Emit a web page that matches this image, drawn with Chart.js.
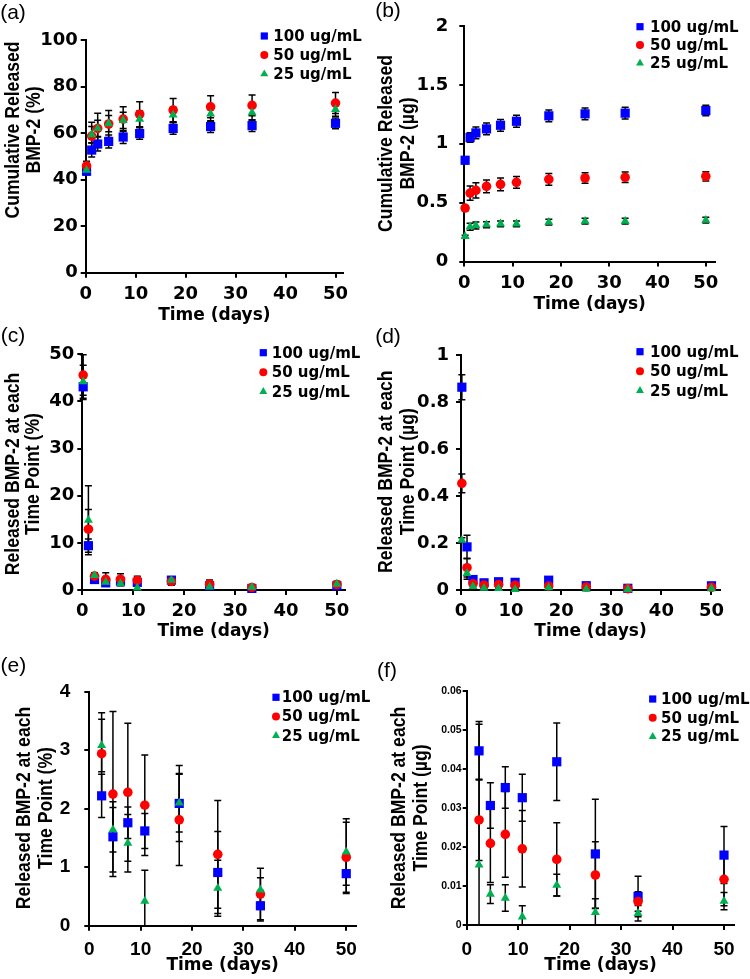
<!DOCTYPE html>
<html>
<head>
<meta charset="utf-8">
<title>BMP-2 release</title>
<script src="https://cdn.jsdelivr.net/npm/chart.js@4.4.0/dist/chart.umd.min.js"></script>
<style>
  body { margin: 0; background: #fff; }
  #fig { position: relative; width: 750px; height: 979px; }
  canvas { position: absolute; }
</style>
</head>
<body>
<div id="fig">
  <canvas id="panelA" width="375" height="328" style="left:0;top:0"></canvas>
  <canvas id="panelB" width="375" height="316" style="left:375px;top:0"></canvas>
  <canvas id="panelC" width="375" height="322" style="left:0;top:322px"></canvas>
  <canvas id="panelD" width="375" height="322" style="left:375px;top:322px"></canvas>
  <canvas id="panelE" width="375" height="329" style="left:0;top:650px"></canvas>
  <canvas id="panelF" width="375" height="329" style="left:375px;top:650px"></canvas>
</div>
<script>
// sampling days
const days = [0.17, 1.2, 2.4, 4.6, 7.5, 10.8, 17.5, 25, 33.3, 50];
const seriesLabels = ["100 ug/mL", "50 ug/mL", "25 ug/mL"];

// (a) cumulative release, %
const cumPct100 = [43.6, 52.7, 55.3, 56.4, 58.3, 59.8, 62.0, 62.8, 63.2, 64.2];
const cumPct50 = [45.9, 58.7, 62.0, 63.9, 66.0, 68.1, 69.9, 71.3, 71.9, 72.9];
const cumPct25 = [44.1, 59.3, 62.0, 64.1, 65.5, 66.0, 67.8, 68.2, 68.8, 70.2];
const cumPctSd100 = [1.5, 3, 3, 2.8, 2.8, 2.5, 2.5, 2.5, 2.5, 2.3];
const cumPctSd50 = [2, 6, 6.5, 5.8, 5.3, 5.4, 5, 4.7, 4.5, 4.5];
const cumPctSd25 = [1.5, 3.5, 3.5, 3.5, 3.5, 3.5, 3.3, 3.3, 3.3, 3];

// (b) cumulative release, ug
const cumUg100 = [0.86, 1.053, 1.092, 1.126, 1.157, 1.191, 1.237, 1.254, 1.26, 1.282];
const cumUg50 = [0.454, 0.581, 0.604, 0.638, 0.655, 0.672, 0.698, 0.709, 0.715, 0.723];
const cumUg25 = [0.213, 0.295, 0.306, 0.312, 0.32, 0.32, 0.334, 0.343, 0.343, 0.351];
const cumUgSd100 = [0.03, 0.04, 0.05, 0.05, 0.05, 0.05, 0.05, 0.05, 0.05, 0.045];
const cumUgSd50 = [0.02, 0.06, 0.065, 0.055, 0.055, 0.05, 0.05, 0.045, 0.045, 0.04];
const cumUgSd25 = [0.01, 0.03, 0.03, 0.025, 0.025, 0.025, 0.025, 0.025, 0.025, 0.025];

// (c)/(e) release at each time point, %
const ptPct100 = [43.1, 9.4, 2.22, 1.52, 1.76, 1.62, 2.09, 0.91, 0.34, 0.89];
const ptPct50 = [45.6, 12.9, 2.94, 2.25, 2.28, 2.06, 1.81, 1.22, 0.54, 1.17];
const ptPct25 = [44.2, 14.8, 3.08, 1.64, 1.41, 0.42, 2.10, 0.64, 0.61, 1.26];
const ptPctSd100 = [2.7, 1.4, 0.37, 0.6, 0.27, 0.3, 0.65, 0.7, 0.26, 0.34];
const ptPctSd50 = [4.3, 4.2, 0.7, 1.41, 1.18, 0.86, 0.78, 0.92, 0.44, 0.6];
const ptPctSd25 = [3.5, 7.3, 0.45, 0.38, 0.49, 0.53, 0.5, 0.48, 0.21, 0.57];

// (d)/(f) release at each time point, ug
const ptUg100 = [0.863, 0.1835, 0.0446, 0.0306, 0.0352, 0.0326, 0.0418, 0.0182, 0.0073, 0.0179];
const ptUg50 = [0.454, 0.095, 0.0269, 0.0209, 0.0232, 0.0195, 0.0168, 0.0128, 0.006, 0.0117];
const ptUg25 = [0.212, 0.071, 0.0154, 0.0079, 0.0069, 0.0021, 0.0102, 0.0032, 0.003, 0.0061];
const ptUgSd100 = [0.053, 0.05, 0.0075, 0.0058, 0.0053, 0.006, 0.0099, 0.014, 0.0052, 0.0073];
const ptUgSd50 = [0.04, 0.04, 0.0104, 0.01, 0.011, 0.0098, 0.0094, 0.0085, 0.0025, 0.0068];
const ptUgSd25 = [0.01, 0.025, 0.036, 0.0024, 0.0034, 0.0028, 0.0028, 0.0035, 0.002, 0.0022];

// tick labels
const xTicks = [0, 10, 20, 30, 40, 50];
const yTicksA = [0, 20, 40, 60, 80, 100];
const yTicksB = [0, 0.5, 1, 1.5, 2];
const yTicksC = [0, 10, 20, 30, 40, 50];
const yTicksD = [0, 0.2, 0.4, 0.6, 0.8, 1];
const yTicksE = [0, 1, 2, 3, 4];
const yTicksF = [0, 0.01, 0.02, 0.03, 0.04, 0.05, 0.06];

const colors = ["#0000ff", "#ff0000", "#00b050"];
const shapes = ["rect", "circle", "triangle"];
const radii = [6.5, 4.8, 5.2];

Chart.defaults.font.family = '"Liberation Sans", Arial, sans-serif';
Chart.defaults.color = "#000";

// vertical error bars, drawn under the markers
const errorBars = {
    id: "errorBars",
    beforeDatasetsDraw(chart) {
        const { ctx, chartArea: a, scales: { x, y } } = chart;
        ctx.save();
        ctx.beginPath();
        ctx.rect(a.left - 10, a.top - 3, a.width + 20, a.height + 3);
        ctx.clip();
        ctx.strokeStyle = "#000";
        ctx.lineWidth = 1.5;
        chart.data.datasets.forEach((ds) => {
            ds.data.forEach((p, i) => {
                const e = ds.errors[i];
                const px = x.getPixelForValue(p.x);
                const top = y.getPixelForValue(p.y + e);
                const bot = y.getPixelForValue(p.y - e);
                ctx.beginPath();
                ctx.moveTo(px, top);
                ctx.lineTo(px, bot);
                ctx.moveTo(px - 3.5, top);
                ctx.lineTo(px + 3.5, top);
                ctx.moveTo(px - 3.5, bot);
                ctx.lineTo(px + 3.5, bot);
                ctx.stroke();
            });
        });
        ctx.restore();
    },
};

function marker(ctx, shape, x, y, r) {
    ctx.beginPath();
    if (shape === "rect") {
        ctx.rect(x - r, y - r, 2 * r, 2 * r);
    } else if (shape === "circle") {
        ctx.arc(x, y, r, 0, Math.PI * 2);
    } else {
        ctx.moveTo(x, y - r);
        ctx.lineTo(x + r * 0.866, y + r * 0.5);
        ctx.lineTo(x - r * 0.866, y + r * 0.5);
        ctx.closePath();
    }
    ctx.fill();
}

// legend in the top right corner of each panel
const markerLegend = {
    id: "markerLegend",
    afterDraw(chart, args, o) {
        const ctx = chart.ctx;
        ctx.save();
        ctx.font = 'bold 15px "DejaVu Sans", sans-serif';
        ctx.textBaseline = "middle";
        ctx.textAlign = "left";
        chart.data.datasets.forEach((ds, k) => {
            const yy = o.y + k * o.gap;
            ctx.fillStyle = colors[k];
            marker(ctx, shapes[k], o.x, yy, [3.6, 4, 4.6][k]);
            ctx.fillStyle = "#000";
            ctx.fillText(ds.label, o.textX, yy + 1);
        });
        ctx.restore();
    },
};

// two-line rotated y title
const sideTitle = {
    id: "sideTitle",
    afterDraw(chart, args, o) {
        const ctx = chart.ctx;
        ctx.save();
        ctx.font = 'bold 17.6px "Liberation Sans", Arial, sans-serif';
        ctx.fillStyle = "#000";
        ctx.textAlign = "center";
        ctx.textBaseline = "middle";
        o.lines.forEach((t, i) => {
            ctx.save();
            ctx.translate(o.x + i * o.gap, o.y);
            ctx.scale(1.1, 1);
            ctx.rotate(-Math.PI / 2);
            ctx.fillText(t, 0, 0);
            ctx.restore();
        });
        ctx.restore();
    },
};

const panelTag = {
    id: "panelTag",
    afterDraw(chart, args, o) {
        const ctx = chart.ctx;
        ctx.save();
        ctx.font = '21px "Liberation Sans", Arial, sans-serif';
        ctx.fillStyle = "#000";
        ctx.textAlign = "center";
        ctx.textBaseline = "middle";
        ctx.fillText(o.text, o.x, o.y);
        ctx.restore();
    },
};

function makeSets(xs, ys, sds) {
    return ys.map((vals, k) => ({
        label: seriesLabels[k],
        data: xs.map((x, i) => ({ x: x, y: vals[i] })),
        errors: sds[k],
        pointStyle: shapes[k],
        pointRadius: radii[k],
        pointHoverRadius: radii[k],
        pointBackgroundColor: colors[k],
        pointBorderWidth: 0,
        order: 3 - k,
        clip: false,
    }));
}

function makePanel(p) {
    const canvas = document.getElementById(p.id);
    const W = canvas.width;
    const H = canvas.height;
    const a = p.area;
    new Chart(canvas, {
        type: "scatter",
        data: { datasets: makeSets(p.xs, p.ys, p.sds) },
        options: {
            responsive: false,
            animation: false,
            events: [],
            layout: { padding: { left: 0, top: a.top, right: W - a.right, bottom: 0 } },
            plugins: {
                legend: { display: false },
                tooltip: { enabled: false },
                markerLegend: p.legend,
                sideTitle: p.yTitle,
                panelTag: p.tag,
            },
            scales: {
                x: {
                    type: "linear",
                    min: 0,
                    max: p.xMax,
                    afterBuildTicks: (s) => { s.ticks = xTicks.map((v) => ({ value: v })); },
                    afterFit: (s) => { s.height = H - a.bottom; },
                    border: { display: true, color: "#000", width: 2 },
                    grid: { drawOnChartArea: false, drawTicks: true, tickLength: 5, color: "#000", lineWidth: 2 },
                    ticks: {
                        color: "#000",
                        font: p.xFont,
                        padding: p.xPad,
                        maxRotation: 0,
                        autoSkip: false,
                        callback: (v) => String(v),
                    },
                    title: {
                        display: true,
                        text: "Time (days)",
                        color: "#000",
                        font: { family: '"DejaVu Sans", sans-serif', size: 17, weight: "bold", lineHeight: 1.2 },
                        padding: { top: 0, bottom: p.titlePad },
                    },
                },
                y: {
                    type: "linear",
                    min: 0,
                    max: p.yMax,
                    afterBuildTicks: (s) => { s.ticks = p.yTicks.map((v) => ({ value: v })); },
                    afterFit: (s) => { s.width = a.left; },
                    border: { display: true, color: "#000", width: 2 },
                    grid: { drawOnChartArea: false, drawTicks: true, tickLength: p.yTickLen || 5, color: "#000", lineWidth: 2 },
                    ticks: {
                        color: "#000",
                        font: p.yFont,
                        padding: p.yPad,
                        autoSkip: false,
                        callback: (v) => String(v),
                    },
                },
            },
        },
        plugins: [errorBars, markerLegend, sideTitle, panelTag],
    });
}

const wideFont = { family: '"DejaVu Sans", sans-serif', size: 18, weight: "bold" };
const armFont = { family: '"Liberation Sans", Arial, sans-serif', size: 19, weight: "bold" };
const late = (arr) => arr.slice(2);

makePanel({
    id: "panelA",
    area: { left: 85.7, top: 40, right: 343, bottom: 272.7 },
    xMax: 51.5, yMax: 100, yTicks: yTicksA,
    xs: days, ys: [cumPct100, cumPct50, cumPct25], sds: [cumPctSd100, cumPctSd50, cumPctSd25],
    xFont: wideFont, yFont: wideFont, xPad: 6, yPad: 3, titlePad: 1.8,
    legend: { x: 264.3, y: 36, gap: 19, textX: 273.3 },
    yTitle: { lines: ["Cumulative Released", "BMP-2 (%)"], x: 13.3, gap: 21, y: 130 },
    tag: { text: "(a)", x: 13, y: 13 },
});

makePanel({
    id: "panelB",
    area: { left: 89.3, top: 26, right: 340, bottom: 261.5 },
    xMax: 51.9, yMax: 2, yTicks: yTicksB,
    xs: days, ys: [cumUg100, cumUg50, cumUg25], sds: [cumUgSd100, cumUgSd50, cumUgSd25],
    xFont: wideFont, yFont: wideFont, xPad: 6, yPad: 11, titlePad: 1.3,
    legend: { x: 265, y: 26.7, gap: 18.3, textX: 275 },
    yTitle: { lines: ["Cumulative Released", "BMP-2 (µg)"], x: 11.7, gap: 21.6, y: 143.5 },
    tag: { text: "(b)", x: 13, y: 11.7 },
});

makePanel({
    id: "panelC",
    area: { left: 82.3, top: 32.3, right: 345, bottom: 268 },
    xMax: 51.6, yMax: 50, yTicks: yTicksC,
    xs: days, ys: [ptPct100, ptPct50, ptPct25], sds: [ptPctSd100, ptPctSd50, ptPctSd25],
    xFont: wideFont, yFont: wideFont, xPad: 6, yPad: 3, titlePad: 1.8,
    legend: { x: 263.3, y: 30.7, gap: 19.5, textX: 271.7 },
    yTitle: { lines: ["Released BMP-2 at each", "Time Point (%)"], x: 13.3, gap: 20.5, y: 152 },
    tag: { text: "(c)", x: 13, y: 13.8 },
});

makePanel({
    id: "panelD",
    area: { left: 86, top: 33, right: 345, bottom: 268 },
    xMax: 51.7, yMax: 1, yTicks: yTicksD,
    xs: days, ys: [ptUg100, ptUg50, ptUg25], sds: [ptUgSd100, ptUgSd50, ptUgSd25],
    xFont: wideFont, yFont: wideFont, xPad: 6, yPad: 7, titlePad: 1.8,
    legend: { x: 265, y: 29.7, gap: 19.5, textX: 275 },
    yTitle: { lines: ["Released BMP-2 at each", "Time Point (µg)"], x: 11.7, gap: 21.6, y: 149.7 },
    tag: { text: "(d)", x: 13, y: 15.5 },
});

makePanel({
    id: "panelE",
    area: { left: 89.3, top: 41.7, right: 356, bottom: 275.7 },
    xMax: 51.9, yMax: 4, yTicks: yTicksE,
    xs: late(days), ys: [late(ptPct100), late(ptPct50), late(ptPct25)],
    sds: [late(ptPctSd100), late(ptPctSd50), late(ptPctSd25)],
    xFont: armFont, yFont: armFont, xPad: 8, yPad: 14, titlePad: 2.8,
    legend: { x: 276, y: 47.3, gap: 19.2, textX: 281.7 },
    yTitle: { lines: ["Released BMP-2 at each", "Time Point (%)"], x: 25, gap: 21.7, y: 158 },
    tag: { text: "(e)", x: 13.3, y: 16.7 },
});

makePanel({
    id: "panelF",
    area: { left: 91.7, top: 40.7, right: 359.3, bottom: 275 },
    xMax: 52, yMax: 0.06, yTicks: yTicksF,
    xs: late(days), ys: [late(ptUg100), late(ptUg50), late(ptUg25)],
    sds: [late(ptUgSd100), late(ptUgSd50), late(ptUgSd25)],
    xFont: armFont, yFont: { family: '"Liberation Sans", Arial, sans-serif', size: 10.5, weight: "bold" },
    xPad: 8, yPad: 1, yTickLen: 4, titlePad: 2.8,
    legend: { x: 277.7, y: 49, gap: 18.8, textX: 286 },
    yTitle: { lines: ["Released BMP-2 at each", "Time Point (µg)"], x: 25, gap: 21.7, y: 158 },
    tag: { text: "(f)", x: 12, y: 20.8 },
});
</script>
</body>
</html>
